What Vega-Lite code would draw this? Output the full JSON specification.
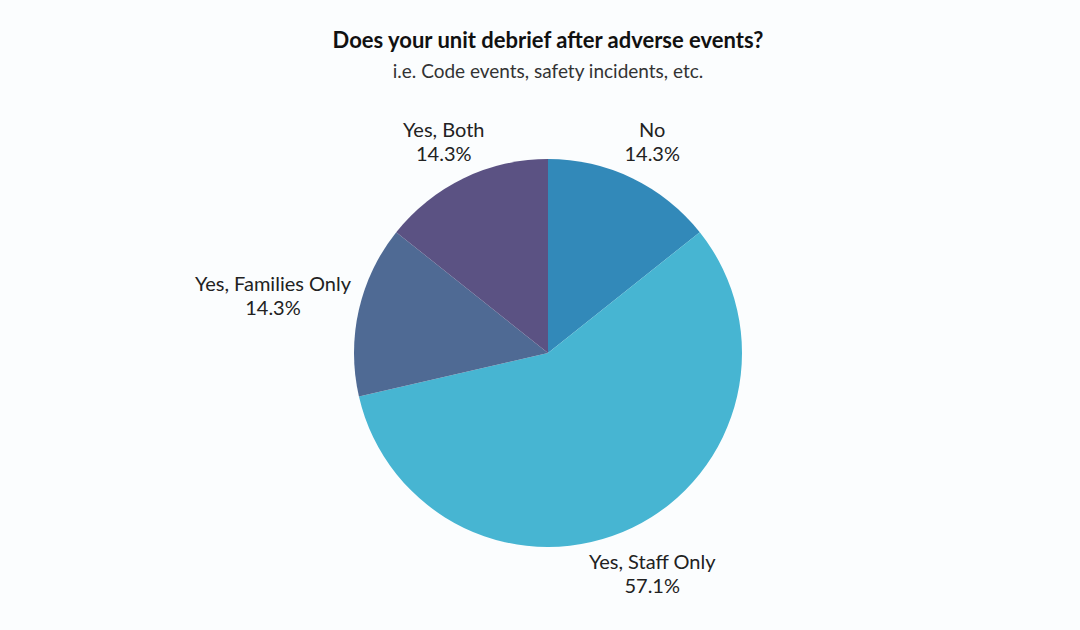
{
  "$schema": "https://vega.github.io/schema/vega-lite/v6.json",
  "description": "Does your unit debrief after adverse events?",
  "width": 1080,
  "height": 630,
  "autosize": {"type": "fit", "contains": "padding"},
  "padding": {"top": 36, "bottom": 13, "left": 16, "right": 0},
  "background": "#fbfdfe",
  "config": {"view": {"stroke": null}, "font": "Lato"},
  "title": {
    "text": "Does your unit debrief after adverse events?",
    "subtitle": "i.e. Code events, safety incidents, etc.",
    "anchor": "middle",
    "font": "Lato",
    "fontSize": 22,
    "fontWeight": "bold",
    "color": "#111111",
    "subtitleFont": "Lato",
    "subtitleFontSize": 19,
    "subtitleColor": "#333333",
    "subtitlePadding": 10,
    "offset": 0
  },
  "data": {
    "values": [
      {"category": "No", "pct": 14.3},
      {"category": "Yes, Staff Only", "pct": 57.1},
      {"category": "Yes, Families Only", "pct": 14.3},
      {"category": "Yes, Both", "pct": 14.3}
    ]
  },
  "transform": [
    {"calculate": "indexof(['No', 'Yes, Staff Only', 'Yes, Families Only', 'Yes, Both'], datum.category)", "as": "ord"},
    {"calculate": "datum.category + '\\n' + format(datum.pct, '.1f') + '%'", "as": "label"}
  ],
  "encoding": {
    "theta": {"field": "pct", "type": "quantitative", "stack": true},
    "order": {"field": "ord", "type": "quantitative"}
  },
  "layer": [
    {
      "mark": {"type": "arc", "outerRadius": 194},
      "encoding": {
        "color": {
          "field": "category",
          "type": "nominal",
          "scale": {
            "domain": ["No", "Yes, Staff Only", "Yes, Families Only", "Yes, Both"],
            "range": ["#3289b9", "#47b5d2", "#4f6a94", "#5b5283"]
          },
          "legend": null
        }
      }
    },
    {
      "mark": {"type": "text", "radius": 240, "dy": -6, "fontSize": 20, "lineBreak": "\n", "lineHeight": 24, "fill": "#222222", "align": "center", "baseline": "middle"},
      "encoding": {
        "text": {"field": "label"},
        "opacity": {"condition": {"test": "datum.category === 'Yes, Families Only'", "value": 0}, "value": 1}
      }
    },
    {
      "mark": {"type": "text", "radius": 282, "dy": -6, "fontSize": 20, "lineBreak": "\n", "lineHeight": 24, "fill": "#222222", "align": "center", "baseline": "middle"},
      "encoding": {
        "text": {"field": "label"},
        "opacity": {"condition": {"test": "datum.category === 'Yes, Families Only'", "value": 1}, "value": 0}
      }
    }
  ]
}
